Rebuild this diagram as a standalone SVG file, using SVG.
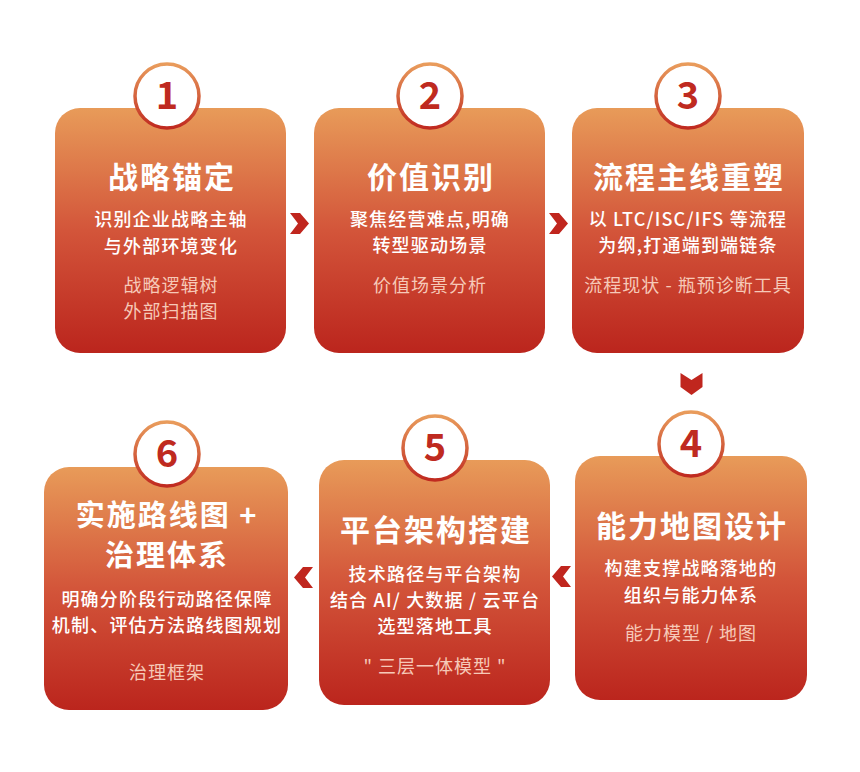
<svg xmlns="http://www.w3.org/2000/svg" width="860" height="772" viewBox="0 0 860 772">
<defs>
<linearGradient id="boxGrad" x1="0" y1="0" x2="0" y2="1">
<stop offset="0" stop-color="#E89B59"/>
<stop offset="0.5" stop-color="#D3553A"/>
<stop offset="1" stop-color="#BB251D"/>
</linearGradient>
<linearGradient id="ringGrad" x1="0" y1="0" x2="0" y2="1">
<stop offset="0" stop-color="#E99C5C"/>
<stop offset="1" stop-color="#C02A20"/>
</linearGradient>
<style>
.box{fill:url(#boxGrad);}
.ring{fill:#FFFFFF;stroke:url(#ringGrad);stroke-width:3.5;}
.num{font-family:"Noto Sans CJK SC","Liberation Sans",sans-serif;font-weight:700;font-size:38px;fill:#BF2A20;text-anchor:middle;}
.title{font-family:"Noto Sans CJK SC","Noto Sans",sans-serif;font-weight:700;font-size:30px;fill:#FFFFFF;text-anchor:middle;letter-spacing:2px;}
.title2{font-family:"Noto Sans CJK SC","Noto Sans",sans-serif;font-weight:700;font-size:29px;fill:#FFFFFF;text-anchor:middle;letter-spacing:2px;}
.body{font-family:"Noto Sans CJK SC","Noto Sans",sans-serif;font-weight:500;font-size:18px;fill:#FFFFFF;text-anchor:middle;letter-spacing:1.2px;}
.tool{font-family:"Noto Sans CJK SC","Noto Sans",sans-serif;font-weight:400;font-size:18px;fill:#F6C9B8;text-anchor:middle;letter-spacing:1px;}
.chev{fill:#C0261E;}
</style>
</defs>
<rect width="860" height="772" fill="#FFFFFF"/>

<g id="connectors">
<polygon class="chev" points="290,213 300,213 309,223.5 300,234 290,234 298,223.5"/>
<polygon class="chev" points="549,213 559,213 568,223.5 559,234 549,234 557,223.5"/>
<polygon class="chev" points="680.5,373 691.5,380 702.5,373 702.5,387 691.5,395 680.5,387"/>
<polygon class="chev" points="571,566 561,566 552,576.5 561,587 571,587 563,576.5"/>
<polygon class="chev" points="313,567 303,567 294,577.5 303,588 313,588 305,577.5"/>
</g>

<g id="node1">
<rect class="box" x="55" y="108" width="231" height="245" rx="25"/>
<circle class="ring" cx="167" cy="96" r="32"/>
<text class="num" x="167" y="109">1</text>
<text class="title" x="172" y="188">战略锚定</text>
<text class="body" x="171" y="226">识别企业战略主轴</text>
<text class="body" x="171" y="253">与外部环境变化</text>
<text class="tool" x="171" y="292">战略逻辑树</text>
<text class="tool" x="171" y="318">外部扫描图</text>
</g>

<g id="node2">
<rect class="box" x="314" y="108" width="231" height="245" rx="25"/>
<circle class="ring" cx="430" cy="96" r="32"/>
<text class="num" x="430" y="109">2</text>
<text class="title" x="431" y="188">价值识别</text>
<text class="body" x="430" y="226">聚焦经营难点,明确</text>
<text class="body" x="430" y="252">转型驱动场景</text>
<text class="tool" x="430" y="292">价值场景分析</text>
</g>

<g id="node3">
<rect class="box" x="572" y="108" width="232" height="245" rx="25"/>
<circle class="ring" cx="688" cy="96" r="32"/>
<text class="num" x="688" y="109">3</text>
<text class="title" x="689" y="188">流程主线重塑</text>
<text class="body" x="688" y="226">以 LTC/ISC/IFS 等流程</text>
<text class="body" x="688" y="252">为纲,打通端到端链条</text>
<text class="tool" x="688" y="292">流程现状 - 瓶预诊断工具</text>
</g>

<g id="node4">
<rect class="box" x="575" y="456" width="232" height="244" rx="25"/>
<circle class="ring" cx="691" cy="444" r="32"/>
<text class="num" x="691" y="457">4</text>
<text class="title" x="692" y="537">能力地图设计</text>
<text class="body" x="691" y="575">构建支撑战略落地的</text>
<text class="body" x="691" y="602">组织与能力体系</text>
<text class="tool" x="691" y="640">能力模型 / 地图</text>
</g>

<g id="node5">
<rect class="box" x="319" y="460" width="231" height="245" rx="25"/>
<circle class="ring" cx="435" cy="448" r="32"/>
<text class="num" x="435" y="461">5</text>
<text class="title" x="436" y="541">平台架构搭建</text>
<text class="body" x="435" y="581">技术路径与平台架构</text>
<text class="body" x="435" y="607">结合 AI/ 大数据 / 云平台</text>
<text class="body" x="435" y="633">选型落地工具</text>
<text class="tool" x="435" y="673">" 三层一体模型 "</text>
</g>

<g id="node6">
<rect class="box" x="44" y="467" width="244" height="243" rx="25"/>
<circle class="ring" cx="167" cy="454" r="32"/>
<text class="num" x="167" y="467">6</text>
<text class="title2" x="167" y="526">实施路线图 +</text>
<text class="title2" x="167" y="566">治理体系</text>
<text class="body" x="167" y="606">明确分阶段行动路径保障</text>
<text class="body" x="167" y="632">机制、评估方法路线图规划</text>
<text class="tool" x="167" y="679">治理框架</text>
</g>
</svg>
